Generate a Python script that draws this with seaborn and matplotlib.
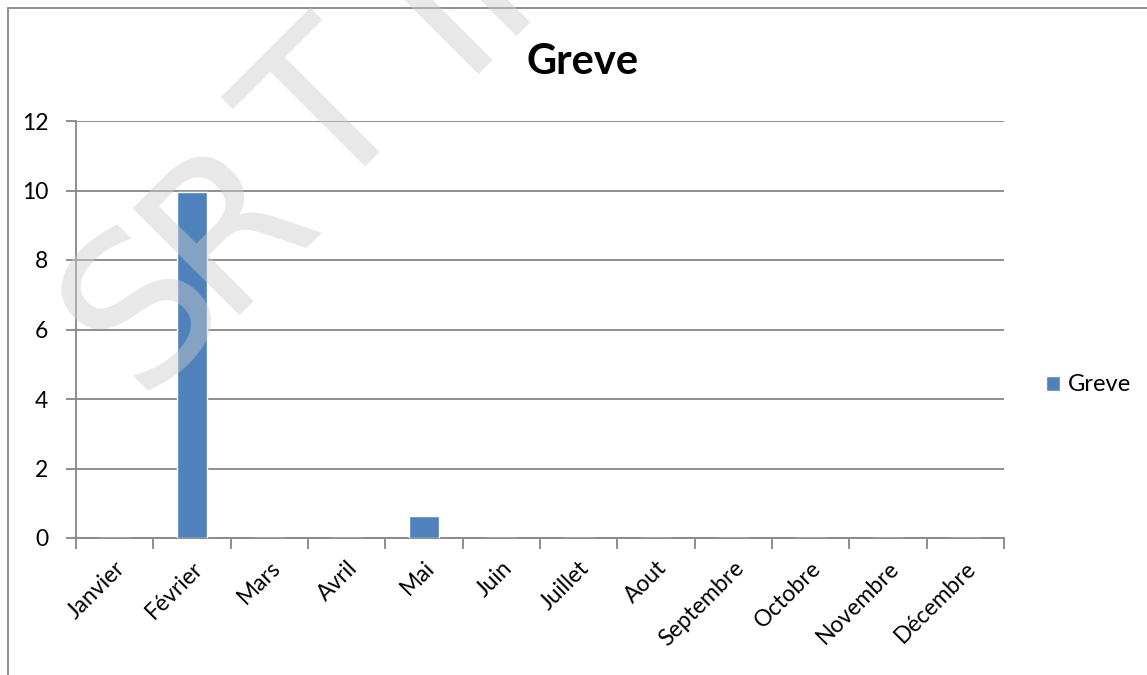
import matplotlib
matplotlib.use("Agg")
import matplotlib.pyplot as plt
import seaborn as sns
from matplotlib.patches import Rectangle

months = ["Janvier", "Février", "Mars", "Avril", "Mai", "Juin", "Juillet",
          "Aout", "Septembre", "Octobre", "Novembre", "Décembre"]
greve = [0, 9.95, 0, 0, 0.62, 0, 0, 0, 0, 0, 0, 0]
y_ticks = [0, 2, 4, 6, 8, 10, 12]

# watermark letters and where they sit (pixels from top-left)
wm_letters = ["S", "R", "T", "I", "N"]
wm_xy = [(185, 350), (270, 265), (373, 160), (480, 53), (551, -18)]

sns.set_style("white")
plt.rcParams["font.family"] = ["Lato", "DejaVu Sans"]
plt.rcParams["text.color"] = "black"
plt.rcParams["xtick.color"] = "black"
plt.rcParams["ytick.color"] = "black"

W, H = 1147, 675
fig = plt.figure(figsize=(W / 100, H / 100), dpi=100)
ax = fig.add_axes([76 / W, 1 - 538 / H, 928 / W, 417 / H])

grid_col = "#868686"
sns.barplot(x=months, y=greve, color="#4F81BD", width=0.4, saturation=1,
            label="Greve", ax=ax, zorder=3)

ax.set_ylim(0, 12)
ax.set_xlim(-0.5, 11.5)
ax.set_yticks(y_ticks)
ax.yaxis.grid(True, color=grid_col, linewidth=1.3)
ax.set_axisbelow(True)
for s in ["top", "right"]:
    ax.spines[s].set_visible(False)
for s in ["left", "bottom"]:
    ax.spines[s].set_color(grid_col)
    ax.spines[s].set_linewidth(1.3)

ax.tick_params(axis="y", length=7, width=1.3, color=grid_col, labelsize=16.5,
               pad=13, left=True, labelcolor="black")
# x ticks between the categories
ax.set_xticks([i - 0.5 for i in range(13)], minor=True)
ax.tick_params(axis="x", which="minor", length=8, width=1.3, color=grid_col,
               bottom=True)
ax.tick_params(axis="x", which="major", length=0, labelsize=16.5, pad=14,
               labelcolor="black")
plt.setp(ax.get_xticklabels(), rotation=45, ha="right",
         rotation_mode="anchor")

ax.legend(loc="center left", bbox_to_anchor=(1.022, 0.367),
          frameon=False, fontsize=17, handlelength=0.6,
          handleheight=0.6, handletextpad=0.35)

fig.text(0.508, 1 - 62 / H, "Greve", ha="center", va="center", fontsize=30,
         fontweight="bold")

# outer chart frame
fig.add_artist(Rectangle((8 / W, -0.1), 1.2, 1.1 - 8 / H,
                         transform=fig.transFigure, fill=False,
                         edgecolor=grid_col, linewidth=1.3))

# watermark
for letter, (px, py) in zip(wm_letters, wm_xy):
    fig.text(px / W, 1 - py / H, letter, rotation=45, rotation_mode="anchor",
             ha="center", va="baseline", fontsize=148,
             family="DejaVu Sans", color="#cccccc", alpha=0.45, zorder=10)

fig.savefig("out.png", dpi=100)
